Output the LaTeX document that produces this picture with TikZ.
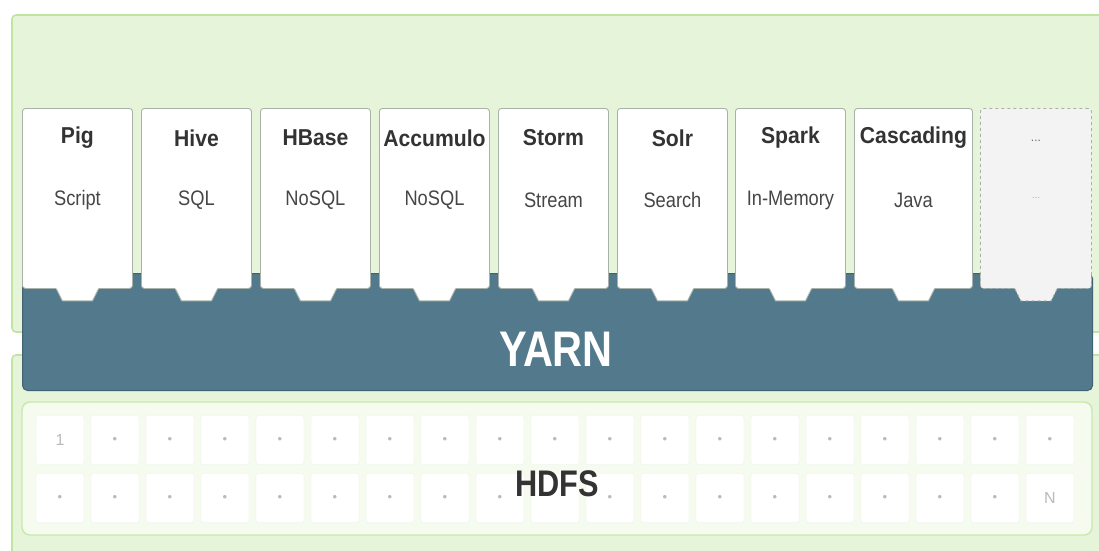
\documentclass[tikz,border=0pt]{standalone}
\usepackage{fontspec}
\setmainfont{Liberation Sans}
\newfontfamily\appfont[FakeStretch=0.92]{Liberation Sans}
\newfontfamily\subfont[FakeStretch=0.87]{Liberation Sans}
\newfontfamily\bigfont[FakeStretch=0.83]{Liberation Sans}

\definecolor{panelfill}{RGB}{230,244,217}
\definecolor{panelline}{RGB}{192,229,160}
\definecolor{hdfsfill}{RGB}{246,251,240}
\definecolor{hdfsline}{RGB}{200,233,170}
\definecolor{cellline}{RGB}{236,241,230}
\definecolor{yarnfill}{RGB}{82,122,140}
\definecolor{yarnline}{RGB}{64,98,114}
\definecolor{cardline}{RGB}{168,178,168}
\definecolor{morefill}{RGB}{243,243,243}
\definecolor{titletext}{RGB}{51,51,51}
\definecolor{subtext}{RGB}{70,70,70}

\tikzset{
  panel/.style={draw=panelline,fill=panelfill,line width=1.6pt,rounded corners=4pt},
  appcard/.style={draw=cardline,fill=white,line width=0.9pt,rounded corners=3pt,
    anchor=north west,minimum height=180pt,inner sep=0pt},
  morecard/.style={appcard,fill=morefill,dashed},
  apptitle/.style={font=\appfont\bfseries\fontsize{23}{26}\selectfont,text=titletext},
  appsub/.style={font=\subfont\fontsize{21}{24}\selectfont,text=subtext},
  cell/.style={draw=cellline,fill=white,rounded corners=2pt,minimum width=48pt,
    minimum height=49pt,inner sep=0pt,text=black!27,font=\fontsize{16}{18}\selectfont}
}

\begin{document}
\begin{tikzpicture}[x=1pt,y=-1pt]
\useasboundingbox (0,0) rectangle (1099,550);

% outer panels
\draw[panel] (12,15) rectangle (1112,332);
\draw[panel] (12,355) rectangle (1112,565);

% resource manager
\node[draw=yarnline,fill=yarnfill,line width=1pt,rounded corners=5pt,minimum width=1070pt,
      minimum height=117pt,anchor=north west,inner sep=0pt] (yarn) at (22,273) {};
\node[font=\bigfont\bfseries\fontsize{50}{56}\selectfont,text=white] (yarnlbl) at (556,349) {YARN};

% engines
\foreach \i/\x/\w/\t/\s in {1/22/110/Pig/Script, 2/141/110/Hive/SQL, 3/260/110/HBase/NoSQL,
    4/379/110/Accumulo/NoSQL, 5/498/110/Storm/Stream, 6/617/110/Solr/Search,
    7/735/110/Spark/In-Memory, 8/854/118/Cascading/Java}{
  \node[appcard,minimum width=\w pt] (app\i) at (\x,108) {};
  \fill[white] ([xshift=-21pt,yshift=1pt]app\i.south) -- ([xshift=-21pt]app\i.south)
    -- ++(6,12) -- ++(30,0) -- ++(6,-12) -- ++(0,-1) -- cycle;
  \draw[cardline,line width=0.9pt] ([xshift=-21pt]app\i.south) -- ++(6,12) -- ++(30,0) -- ++(6,-12);
  \node[apptitle] (app\i-name) at ([yshift=-30pt]app\i.north) {\t};
  \node[appsub] (app\i-kind) at ([yshift=-92pt]app\i.north) {\s};
}
\node[morecard,minimum width=111pt] (app9) at (980,108) {};
\fill[morefill] ([xshift=-21pt,yshift=1pt]app9.south) -- ([xshift=-21pt]app9.south)
  -- ++(6,12) -- ++(30,0) -- ++(6,-12) -- ++(0,-1) -- cycle;
\draw[cardline,line width=0.9pt,dashed] ([xshift=-21pt]app9.south) -- ++(6,12) -- ++(30,0) -- ++(6,-12);
\node[font=\fontsize{12}{14}\selectfont,text=black!60] (app9-name) at ([yshift=-33pt]app9.north) {...};
\node[font=\fontsize{10}{12}\selectfont,text=black!30] (app9-kind) at ([yshift=-90pt]app9.north) {...};

% storage
\draw[draw=hdfsline,fill=hdfsfill,line width=1.4pt,rounded corners=8pt] (22,402) rectangle (1092,535);
\foreach \c in {0,...,18}{
  \foreach \r in {0,1}{
    \def\lbl{\fontsize{13}{13}\selectfont\textbullet}
    \ifnum\r=0 \ifnum\c=0 \def\lbl{1}\fi\fi
    \ifnum\r=1 \ifnum\c=18 \def\lbl{N}\fi\fi
    \ifnum\r=1 \ifnum\c=9 \def\lbl{}\fi\fi
    \node[cell] (cell-\r-\c) at ({60+55*\c},{440+58*\r}) {\lbl};
  }
}
\node[font=\bigfont\bfseries\fontsize{37}{42}\selectfont,text=titletext] (hdfs) at (557,484) {HDFS};
\end{tikzpicture}
\end{document}
